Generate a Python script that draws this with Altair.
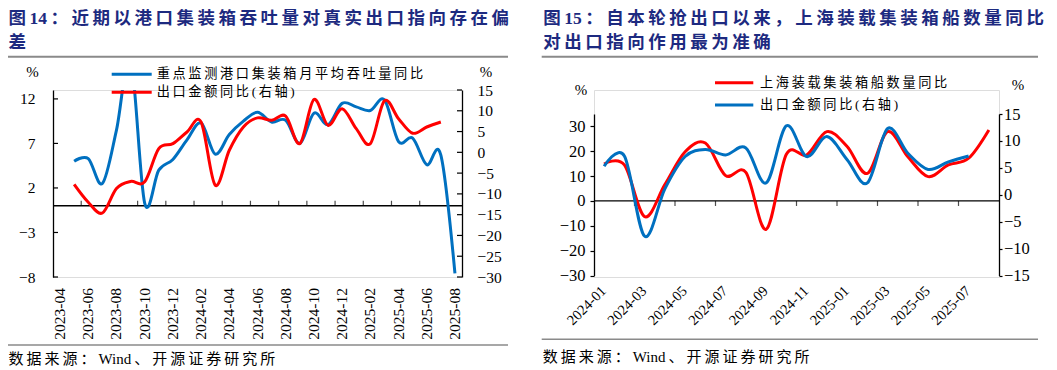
import altair as alt
import pandas as pd

# ---------------- data ----------------
months_L = ["2023-04", "2023-05", "2023-06", "2023-07", "2023-08", "2023-09", "2023-10",
            "2023-11", "2023-12", "2024-01", "2024-02", "2024-03", "2024-04", "2024-05",
            "2024-06", "2024-07", "2024-08", "2024-09", "2024-10", "2024-11", "2024-12",
            "2025-01", "2025-02", "2025-03", "2025-04", "2025-05", "2025-06", "2025-07",
            "2025-08"]
# 重点监测港口集装箱月平均吞吐量同比 (left axis), from 2023-05
port_L = [5.0, 5.3, 2.5, 8.5, 16.5, 0.3, 4.0, 5.2,
          7.4, 9.3, 5.8, 8.0, 9.5, 10.5, 9.4, 9.6, 7.0, 10.4, 9.1, 11.5,
          11.1, 10.7, 11.9, 7.2, 7.6, 4.6, 5.7, -7.6]
# 出口金额同比 (right axis), from 2023-05
export_L = [-7.7, -12.0, -14.6, -8.7, -7.0, -7.1, 0.9, 2.1,
            4.9, 7.3, -7.9, 0.5, 6.1, 8.3, 7.7, 8.7, 2.1, 12.7, 6.5, 10.5,
            5.7, 2.1, 12.4, 8.1, 4.6, 6.1, 7.3]

months_R = ["2024-01", "2024-02", "2024-03", "2024-04", "2024-05", "2024-06", "2024-07",
            "2024-08", "2024-09", "2024-10", "2024-11", "2024-12", "2025-01", "2025-02",
            "2025-03", "2025-04", "2025-05", "2025-06", "2025-07", "2025-08"]
# 上海装载集装箱船数量同比 (left axis), from 2024-01
ship_R = [14.9, 14.5, -6.3, 6.6, 19.8, 23.3, 10.2, 11.5, -11.4, 18.8,
          18.5, 27.9, 21.9, 11.1, 27.9, 17.8, 9.8, 14.5, 17.2, 28.6]
# 出口金额同比 (right axis), from 2024-01
export_R = [5.3, 7.2, -7.7, 1.1, 7.1, 8.4, 7.4, 8.7, 2.2, 12.8,
            7.1, 10.8, 6.5, 2.2, 12.3, 7.7, 4.7, 6.1, 7.2]

yticks_LL = [-8, -3, 2, 7, 12]
yticks_LR = [-30, -25, -20, -15, -10, -5, 0, 5, 10, 15]
yticks_RL = [-30, -20, -10, 0, 10, 20, 30]
yticks_RR = [-15, -10, -5, 0, 5, 10, 15]

title_L1 = "图14：近期以港口集装箱吞吐量对真实出口指向存在偏"
title_L2 = "差"
title_R1 = "图15：自本轮抢出口以来，上海装载集装箱船数量同比"
title_R2 = "对出口指向作用最为准确"
legend_L = ["重点监测港口集装箱月平均吞吐量同比", "出口金额同比(右轴)"]
legend_R = ["上海装载集装箱船数量同比", "出口金额同比(右轴)"]
source = "数据来源：Wind、开源证券研究所"

# ---------------- style ----------------
BLUE = "#0070C0"
RED = "#FF0000"
NAVY = "#1d2a80"
GREY = "#8a8a8a"
SERIF = "Liberation Serif"
CJK = "'Liberation Serif', 'Noto Sans CJK SC'"
DUMMY = pd.DataFrame({"d": [0]})


def spaced(s, gap="\u2009"):
    out = ""
    for k, ch in enumerate(s):
        out += ch
        if k < len(s) - 1:
            nx = s[k + 1]
            if not (ch.isascii() and nx.isascii()):
                out += gap
    return out


def series_df(months, start, vals):
    idx = list(range(start, start + len(vals)))
    return pd.DataFrame({"m": [months[i] for i in idx], "i": idx, "v": vals})


def label_df(months, step=2):
    idx = list(range(0, len(months), step))
    return pd.DataFrame({"m": [months[i] for i in idx], "i": idx})


def txt(x, y, s, size, color="black", weight="normal", font=CJK, align="left"):
    return alt.Chart(DUMMY).mark_text(
        align=align, baseline="middle", fontSize=size, font=font,
        fontWeight=weight, color=color
    ).encode(x=alt.value(x), y=alt.value(y), text=alt.value(s))


def hline(x1, x2, y, color, width):
    return alt.Chart(DUMMY).mark_rule(color=color, strokeWidth=width).encode(
        x=alt.value(x1), x2=alt.value(x2), y=alt.value(y))


H = 187

# ================= LEFT PANEL =================
W_L = 409
nL = len(months_L)
xL = alt.Scale(domain=[-0.5, nL - 0.5], nice=False, zero=False)
yLL = alt.Scale(domain=[-8, 13], nice=False, zero=False)
yLR = alt.Scale(domain=[-30, 15], nice=False, zero=False)

blueL = alt.Chart(series_df(months_L, 1, port_L)).mark_line(
    color=BLUE, strokeWidth=3, interpolate="cardinal", clip=True).encode(
    x=alt.X("i:Q", scale=xL, axis=None),
    y=alt.Y("v:Q", scale=yLL, axis=alt.Axis(
        orient="left", values=yticks_LL, domain=True, domainColor="black", domainWidth=1.3,
        ticks=False, tickSize=0, labelPadding=18, labelFont=SERIF, labelFontSize=15.5,
        labelColor="black", grid=False, title=None, labelOverlap=False)))

redL = alt.Chart(series_df(months_L, 1, export_L)).mark_line(
    color=RED, strokeWidth=3, interpolate="cardinal", clip=True).encode(
    x=alt.X("i:Q", scale=xL, axis=None),
    y=alt.Y("v:Q", scale=yLR, axis=alt.Axis(
        orient="right", values=yticks_LR, domain=True, domainColor="black", domainWidth=1.3,
        ticks=False, tickSize=0, labelPadding=15, labelFont=SERIF, labelFontSize=15.5,
        labelColor="black", grid=False, title=None, labelOverlap=False)))

tickLL = alt.Chart(pd.DataFrame({"t": yticks_LL})).mark_rule(color="black", strokeWidth=1.2).encode(
    y=alt.Y("t:Q", scale=yLL, axis=None), x=alt.value(0), x2=alt.value(5))
tickLR = alt.Chart(pd.DataFrame({"t": yticks_LR})).mark_rule(color="black", strokeWidth=1.2).encode(
    y=alt.Y("t:Q", scale=yLR, axis=None), x=alt.value(W_L - 5), x2=alt.value(W_L))
zeroL = alt.Chart(DUMMY).mark_rule(color="black", strokeWidth=1.3).encode(
    y=alt.YDatum(0, scale=yLL, axis=None), x=alt.value(0), x2=alt.value(W_L))
bound_L = [k + 0.5 for k in range(1, nL - 1, 2)]
xtickL = alt.Chart(pd.DataFrame({"b": bound_L})).mark_tick(
    orient="vertical", size=5, thickness=1.2, yOffset=-2.5, color="black").encode(
    x=alt.X("b:Q", scale=xL, axis=None), y=alt.YDatum(0, scale=yLL, axis=None))
xlabL = alt.Chart(label_df(months_L)).mark_text(
    angle=270, align="right", baseline="middle", font=SERIF, fontSize=15.5, color="black").encode(
    x=alt.X("i:Q", scale=xL, axis=None), y=alt.value(H + 11), text="m:N")

decoL = [
    txt(-44.5, -71.5, spaced(title_L1), 17.5, NAVY, "bold"),
    txt(-44.5, -47.5, title_L2, 17.5, NAVY, "bold"),
    hline(-45, 455, -33.3, GREY, 2),
    hline(-45, 455, 255, GREY, 1.5),
    txt(-44.5, 268.5, spaced(source), 15),
    txt(-20.5, -18, "%", 15, font=SERIF, align="center"),
    txt(433, -18, "%", 15, font=SERIF, align="center"),
    hline(58.7, 98.7, -15.7, BLUE, 3),
    hline(58.7, 98.7, 2.3, RED, 3),
    txt(103.7, -15.7, spaced(legend_L[0]), 13.2),
    txt(103.7, 2.3, spaced(legend_L[1]), 13.2),
]

left = alt.layer(zeroL, xtickL, tickLL, tickLR, blueL, redL, xlabL, *decoL).resolve_scale(
    y="independent").properties(width=W_L, height=H)

# ================= RIGHT PANEL =================
W_R = 405
nR = len(months_R)
xR = alt.Scale(domain=[-0.5, nR - 0.5], nice=False, zero=False)
yRL = alt.Scale(domain=[-30, 35], range=[185.5, 24], nice=False, zero=False)
yRR = alt.Scale(domain=[-15, 15], range=[185.5, 24], nice=False, zero=False)

redR = alt.Chart(series_df(months_R, 0, ship_R)).mark_line(
    color=RED, strokeWidth=3, interpolate="cardinal", clip=True).encode(
    x=alt.X("i:Q", scale=xR, axis=None),
    y=alt.Y("v:Q", scale=yRL, axis=alt.Axis(
        orient="left", values=yticks_RL, domain=True, domainColor="black", domainWidth=1.3,
        ticks=True, tickSize=4, tickColor="black", tickWidth=1.2, labelPadding=5,
        labelFont=SERIF, labelFontSize=16.5, labelColor="black", grid=False, title=None,
        labelOverlap=False)))

blueR = alt.Chart(series_df(months_R, 0, export_R)).mark_line(
    color=BLUE, strokeWidth=3, interpolate="cardinal", clip=True).encode(
    x=alt.X("i:Q", scale=xR, axis=None),
    y=alt.Y("v:Q", scale=yRR, axis=alt.Axis(
        orient="right", values=yticks_RR, domain=True, domainColor="black", domainWidth=1.3,
        ticks=True, tickSize=3, tickColor="black", tickWidth=1.2, labelPadding=1.5,
        labelExpr="datum.value >= 0 ? '\u2004' + datum.label : datum.label",
        labelFont=SERIF, labelFontSize=16.5, labelColor="black", grid=False, title=None,
        labelOverlap=False)))

zeroR = alt.Chart(DUMMY).mark_rule(color="black", strokeWidth=1.3).encode(
    y=alt.YDatum(0, scale=yRL, axis=None), x=alt.value(0), x2=alt.value(W_R))
bound_R = [k + 0.5 for k in range(1, nR - 1, 2)]
xtickR = alt.Chart(pd.DataFrame({"b": bound_R})).mark_tick(
    orient="vertical", size=5, thickness=1.2, yOffset=2.5, color="black").encode(
    x=alt.X("b:Q", scale=xR, axis=None), y=alt.YDatum(0, scale=yRL, axis=None))
xlabR = alt.Chart(label_df(months_R)).mark_text(
    angle=315, align="right", baseline="middle", font=SERIF, fontSize=14.5, color="black").encode(
    x=alt.X("i:Q", scale=xR, axis=None), y=alt.value(H + 12), text="m:N")

decoR = [
    txt(-50.7, -71.5, spaced(title_R1), 17.5, NAVY, "bold"),
    txt(-50.7, -47.5, spaced(title_R2), 17.5, NAVY, "bold"),
    hline(-52.3, 444, -33.3, GREY, 2),
    hline(-52.3, 444, 249.3, GREY, 1.5),
    txt(-51.3, 266.7, spaced(source), 15),
    txt(-13, 0, "%", 15, font=SERIF, align="center"),
    txt(424, -5, "%", 15, font=SERIF, align="center"),
    hline(121, 159.3, -7.3, RED, 3),
    hline(121, 159.3, 15, BLUE, 3),
    txt(166, -7.3, spaced(legend_R[0]), 13.2),
    txt(166, 15, spaced(legend_R[1]), 13.2),
]

right = alt.layer(zeroR, xtickR, redR, blueR, xlabR, *decoR).resolve_scale(
    y="independent").properties(width=W_R, height=H)

chart = alt.hconcat(
    left, right, spacing=132, bounds="flush",
    padding={"left": 45, "top": 82, "right": 996, "bottom": 272},
    autosize=alt.AutoSizeParams(type="none"),
).configure_view(stroke=None).configure(background="white")

chart.save("out.html", embed_options={"renderer": "svg", "actions": False})
